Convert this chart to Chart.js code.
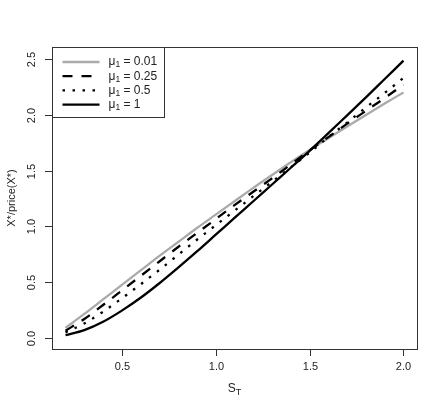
<!DOCTYPE html>
<html>
<head>
<meta charset="utf-8">
<script src="https://cdn.jsdelivr.net/npm/chart.js@4/dist/chart.umd.min.js"></script>
<style>
  html, body { margin: 0; padding: 0; background: #fff; }
</style>
</head>
<body>
<canvas id="chart" width="443" height="409"></canvas>
<script>
// values
const sT = [0.2, 0.3, 0.4, 0.5, 0.6, 0.7, 0.8, 0.9, 1.0, 1.1, 1.2, 1.3, 1.4, 1.5, 1.6, 1.7, 1.8, 1.9, 2.0];
const mu001 = [0.09, 0.215, 0.345, 0.475, 0.605, 0.735, 0.86, 0.985, 1.105, 1.225, 1.345, 1.46, 1.575, 1.685, 1.79, 1.895, 1.998, 2.1, 2.2];
const mu025 = [0.065, 0.17, 0.295, 0.425, 0.555, 0.685, 0.815, 0.94, 1.065, 1.19, 1.31, 1.43, 1.555, 1.68, 1.8, 1.92, 2.035, 2.15, 2.27];
const mu05 = [0.05, 0.13, 0.235, 0.355, 0.48, 0.61, 0.745, 0.88, 1.01, 1.14, 1.27, 1.4, 1.53, 1.66, 1.8, 1.93, 2.065, 2.195, 2.33];
const mu1 = [0.025, 0.07, 0.145, 0.245, 0.36, 0.49, 0.63, 0.775, 0.925, 1.075, 1.225, 1.375, 1.525, 1.677, 1.835, 1.995, 2.155, 2.32, 2.485];
const muLabels = ['0.01', '0.25', '0.5', '1'];
const xTicks = [0.5, 1.0, 1.5, 2.0];
const yTicks = [0.0, 0.5, 1.0, 1.5, 2.0, 2.5];

const FONT = '"Liberation Sans", Arial, sans-serif';

function pts(ys) {
    return sT.map((x, i) => ({ x: x, y: ys[i] }));
}

function line(label, ys, color, dash, order) {
    return {
        label: label,
        data: pts(ys),
        borderColor: color,
        borderWidth: 2.3,
        borderDash: dash,
        borderCapStyle: 'butt',
        pointRadius: 0,
        fill: false,
        cubicInterpolationMode: 'monotone',
        order: order
    };
}

// R style box, ticks, labels and legend
const rAxes = {
    id: 'rAxes',
    afterDraw(chart) {
        const ctx = chart.ctx;
        const a = chart.chartArea;
        const xs = chart.scales.x;
        const ys = chart.scales.y;
        ctx.save();
        ctx.strokeStyle = '#333';
        ctx.lineWidth = 1;
        ctx.strokeRect(Math.round(a.left) + 0.5, Math.round(a.top) + 0.5, Math.round(a.right - a.left), Math.round(a.bottom - a.top));

        ctx.fillStyle = '#222';
        ctx.font = '11px ' + FONT;
        ctx.textAlign = 'center';
        ctx.textBaseline = 'middle';
        xTicks.forEach(v => {
            const px = Math.round(xs.getPixelForValue(v)) + 0.5;
            ctx.beginPath();
            ctx.moveTo(px, a.bottom);
            ctx.lineTo(px, a.bottom + 7);
            ctx.stroke();
            ctx.fillText(v.toFixed(1), px, a.bottom + 18);
        });
        yTicks.forEach(v => {
            const py = Math.round(ys.getPixelForValue(v)) + 0.5;
            ctx.beginPath();
            ctx.moveTo(a.left, py);
            ctx.lineTo(a.left - 7, py);
            ctx.stroke();
            ctx.save();
            ctx.translate(a.left - 20, py);
            ctx.rotate(-Math.PI / 2);
            ctx.fillText(v.toFixed(1), 0, 0);
            ctx.restore();
        });

        // x title S_T
        const cx = (a.left + a.right) / 2;
        ctx.font = '12px ' + FONT;
        const sw = ctx.measureText('S').width;
        ctx.font = '9px ' + FONT;
        const tw = ctx.measureText('T').width;
        const x0 = cx - (sw + tw) / 2;
        ctx.textAlign = 'left';
        ctx.font = '12px ' + FONT;
        ctx.fillText('S', x0, a.bottom + 40);
        ctx.font = '9px ' + FONT;
        ctx.fillText('T', x0 + sw, a.bottom + 44);

        // y title
        ctx.save();
        ctx.font = '11px ' + FONT;
        ctx.textAlign = 'center';
        ctx.translate(12, (a.top + a.bottom) / 2);
        ctx.rotate(-Math.PI / 2);
        ctx.fillText('X*/price(X*)', 0, 0);
        ctx.restore();

        // legend
        const lx = Math.round(a.left) + 0.5, ly = Math.round(a.top) + 0.5;
        ctx.fillStyle = '#fff';
        ctx.fillRect(lx, ly, 112, 70);
        ctx.strokeRect(lx, ly, 112, 70);
        chart.data.datasets.forEach((ds, i) => {
            const yy = ly + 14.5 + i * 14.2;
            ctx.save();
            ctx.strokeStyle = ds.borderColor;
            ctx.lineWidth = ds.borderWidth;
            ctx.setLineDash(ds.borderDash);
            ctx.beginPath();
            ctx.moveTo(lx + 10, yy);
            ctx.lineTo(lx + 47, yy);
            ctx.stroke();
            ctx.restore();
            ctx.fillStyle = '#222';
            ctx.textAlign = 'left';
            let tx = lx + 56;
            ctx.font = '12px ' + FONT;
            ctx.fillText('\u03bc', tx, yy);
            tx += ctx.measureText('\u03bc').width;
            ctx.font = '8.5px ' + FONT;
            ctx.fillText('1', tx, yy + 3);
            tx += ctx.measureText('1').width;
            ctx.font = '12px ' + FONT;
            ctx.fillText(' = ' + muLabels[i], tx, yy);
        });
        ctx.restore();
    }
};

new Chart(document.getElementById('chart'), {
    type: 'line',
    data: {
        datasets: [
            line('\u03bc1 = ' + muLabels[0], mu001, '#aaaaaa', [], 4),
            line('\u03bc1 = ' + muLabels[1], mu025, '#000', [10, 9], 3),
            line('\u03bc1 = ' + muLabels[2], mu05, '#000', [2.5, 7.5], 2),
            line('\u03bc1 = ' + muLabels[3], mu1, '#000', [], 1)
        ]
    },
    options: {
        responsive: false,
        animation: false,
        layout: { padding: { left: 52, top: 47, right: 26, bottom: 60 } },
        scales: {
            x: { type: 'linear', display: false, min: 0.128, max: 2.072 },
            y: { type: 'linear', display: false, min: -0.099, max: 2.607 }
        },
        plugins: {
            legend: { display: false },
            tooltip: { enabled: false }
        }
    },
    plugins: [rAxes]
});
</script>
</body>
</html>
